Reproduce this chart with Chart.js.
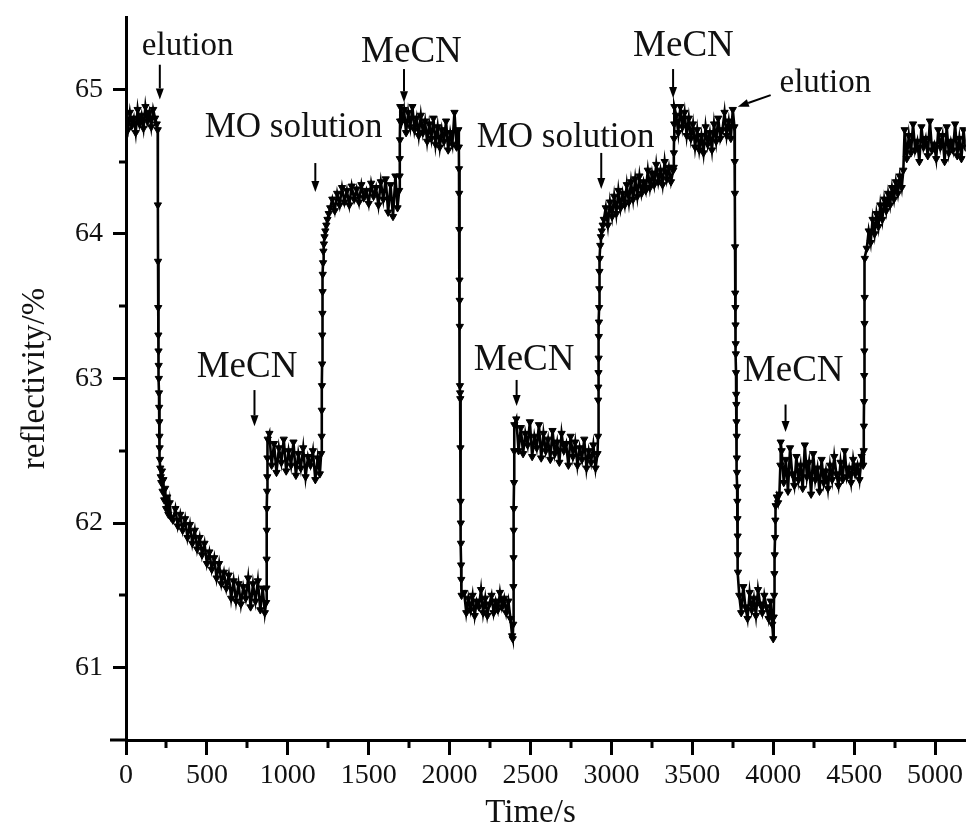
<!DOCTYPE html>
<html>
<head>
<meta charset="utf-8">
<title>Reflectivity vs time</title>
<script src="https://cdn.jsdelivr.net/npm/chart.js@4.4.1/dist/chart.umd.min.js"></script>
<style>
  html, body { margin: 0; padding: 0; background: #fff; }
  #chart { display: block; }
</style>
</head>
<body>
<canvas id="chart" width="971" height="825"></canvas>
<script>
// Reflectivity (%), one pair of arrays per stage
const startT = [0, 12, 24, 36, 48, 60, 72, 84, 96, 108, 120, 132, 144, 156, 168, 180, 190];
const startR = [64.78, 64.72, 64.84, 64.75, 64.80, 64.70, 64.86, 64.76, 64.82, 64.73, 64.88, 64.78, 64.84, 64.74, 64.86, 64.80, 64.76];

const elution1T = [196, 197, 198, 199, 200, 201, 202, 203, 204, 205, 206, 207, 208, 210, 212, 215, 218, 222, 226, 231, 236, 242, 248, 255, 262, 270, 278,
    290, 305, 320, 335, 350, 365, 380, 395, 410, 425, 440, 455, 470, 485, 500, 515, 530, 545, 560, 575, 590, 605, 620, 635, 650, 665, 680, 695, 710, 725, 740, 755, 770, 785, 800, 815, 830, 845, 858, 866];
const elution1R = [64.72, 64.20, 63.81, 63.49, 63.30, 63.19, 63.09, 63.00, 62.90, 62.80, 62.70, 62.60, 62.52, 62.44, 62.38, 62.32, 62.28, 62.36, 62.22, 62.30, 62.16, 62.24, 62.10, 62.18, 62.06, 62.14, 62.04,
    62.02, 62.10, 61.98, 62.06, 61.95, 62.03, 61.90, 61.99, 61.86, 61.95, 61.82, 61.90, 61.78, 61.86, 61.72, 61.80, 61.68, 61.76, 61.62, 61.72, 61.58, 61.66, 61.55, 61.64, 61.48, 61.60, 61.46, 61.58, 61.44, 61.56, 61.48, 61.62, 61.42, 61.58, 61.46, 61.60, 61.40, 61.55, 61.38, 61.45];

const mecn1T = [868, 869, 870, 871, 872, 873, 874, 876,
    886, 900, 915, 930, 945, 960, 975, 990, 1005, 1020, 1035, 1050, 1065, 1080, 1095, 1110, 1125, 1140, 1155, 1170, 1185, 1198, 1206];
const mecn1R = [61.55, 61.75, 61.95, 62.10, 62.22, 62.32, 62.45, 62.58,
    62.62, 62.40, 62.55, 62.35, 62.52, 62.42, 62.58, 62.36, 62.50, 62.40, 62.56, 62.33, 62.48, 62.38, 62.52, 62.32, 62.46, 62.40, 62.50, 62.30, 62.45, 62.34, 62.48];

const mo1T = [1209, 1210, 1211, 1212, 1213, 1214, 1215, 1216, 1218, 1220, 1223, 1227, 1232, 1238, 1245, 1253, 1262,
    1275, 1290, 1305, 1320, 1335, 1350, 1365, 1380, 1395, 1410, 1425, 1440, 1455, 1470, 1485, 1500, 1515, 1530, 1545, 1560, 1575, 1590, 1605, 1620, 1635, 1650, 1665, 1678, 1688];
const mo1R = [62.60, 62.78, 62.95, 63.10, 63.30, 63.45, 63.60, 63.72, 63.80, 63.88, 63.93, 63.98, 64.02, 64.06, 64.10, 64.14, 64.18,
    64.24, 64.16, 64.28, 64.20, 64.32, 64.22, 64.30, 64.20, 64.33, 64.24, 64.31, 64.22, 64.34, 64.25, 64.30, 64.21, 64.35, 64.26, 64.32, 64.20, 64.36, 64.24, 64.38, 64.15, 64.34, 64.12, 64.40, 64.18, 64.30];

const mecn2T = [1691, 1692, 1693, 1694, 1695,
    1705, 1718, 1731, 1744, 1757, 1770, 1783, 1796, 1809, 1822, 1835, 1848, 1861, 1874, 1887, 1900, 1913, 1926, 1939, 1952, 1965, 1978, 1991, 2004, 2017, 2030, 2043, 2054];
const mecn2R = [64.40, 64.52, 64.65, 64.78, 64.88,
    64.78, 64.86, 64.70, 64.84, 64.74, 64.88, 64.72, 64.80, 64.68, 64.82, 64.70, 64.78, 64.64, 64.76, 64.66, 64.80, 64.62, 64.74, 64.60, 64.72, 64.64, 64.78, 64.58, 64.70, 64.62, 64.84, 64.60, 64.72];

const elution2T = [2057, 2058, 2059, 2060, 2061, 2062, 2063, 2064, 2065, 2066, 2067, 2068, 2069, 2070, 2071, 2072, 2074,
    2090, 2103, 2116, 2129, 2142, 2155, 2168, 2181, 2194, 2207, 2220, 2233, 2246, 2259, 2272, 2285, 2298, 2311, 2324, 2337, 2350, 2363, 2376, 2386, 2390];
const elution2R = [64.60, 64.45, 64.28, 64.03, 63.68, 63.54, 63.36, 62.95, 62.90, 62.86, 62.52, 62.15, 62.00, 61.86, 61.71, 61.61, 61.50,
    61.52, 61.38, 61.48, 61.40, 61.50, 61.36, 61.46, 61.42, 61.54, 61.38, 61.48, 61.36, 61.44, 61.50, 61.38, 61.46, 61.40, 61.52, 61.42, 61.48, 61.38, 61.46, 61.34, 61.22, 61.20];

const mecn3T = [2393, 2394, 2395, 2396, 2397, 2398, 2399, 2400,
    2412, 2426, 2440, 2454, 2468, 2482, 2496, 2510, 2524, 2538, 2552, 2566, 2580, 2594, 2608, 2622, 2636, 2650, 2664, 2678, 2692, 2706, 2720, 2734, 2748, 2762, 2776, 2790, 2804, 2818, 2832, 2846, 2860, 2874, 2888, 2902, 2914];
const mecn3R = [61.30, 61.56, 61.76, 61.95, 62.10, 62.28, 62.50, 62.68,
    62.72, 62.50, 62.66, 62.48, 62.62, 62.54, 62.70, 62.46, 62.60, 62.52, 62.68, 62.45, 62.62, 62.50, 62.58, 62.44, 62.64, 62.48, 62.56, 62.42, 62.62, 62.50, 62.55, 62.40, 62.60, 62.46, 62.56, 62.40, 62.52, 62.44, 62.58, 62.38, 62.50, 62.42, 62.54, 62.38, 62.48];

const mo2T = [2917, 2918, 2919, 2920, 2921, 2922, 2923, 2924, 2925, 2926, 2928, 2931, 2935, 2940, 2946, 2953,
    2965, 2978, 2991, 3004, 3017, 3030, 3043, 3056, 3069, 3082, 3095, 3108, 3121, 3134, 3147, 3160, 3173, 3186, 3199, 3212, 3225, 3238, 3251, 3264, 3277, 3290, 3303, 3316, 3329, 3342, 3355, 3368, 3382];
const mo2R = [62.60, 62.85, 62.94, 63.04, 63.14, 63.29, 63.39, 63.49, 63.62, 63.74, 63.83, 63.92, 63.98, 64.02, 64.06, 64.10,
    64.18, 64.06, 64.22, 64.12, 64.26, 64.14, 64.30, 64.18, 64.28, 64.20, 64.34, 64.22, 64.36, 64.24, 64.38, 64.26, 64.40, 64.28, 64.36, 64.30, 64.44, 64.32, 64.42, 64.34, 64.48, 64.36, 64.44, 64.34, 64.50, 64.38, 64.46, 64.36, 64.44];

const mecn4T = [3385, 3386, 3387, 3388, 3389,
    3400, 3413, 3426, 3439, 3452, 3465, 3478, 3491, 3504, 3517, 3530, 3543, 3556, 3569, 3582, 3595, 3608, 3621, 3634, 3647, 3660, 3673, 3686, 3699, 3712, 3725, 3738, 3750, 3760];
const mecn4R = [64.46, 64.56, 64.66, 64.76, 64.88,
    64.82, 64.70, 64.88, 64.74, 64.84, 64.68, 64.80, 64.66, 64.76, 64.60, 64.72, 64.58, 64.68, 64.56, 64.74, 64.62, 64.70, 64.58, 64.76, 64.64, 64.80, 64.66, 64.72, 64.84, 64.68, 64.78, 64.66, 64.86, 64.74];

const elution3T = [3762, 3763, 3764, 3765, 3766, 3767, 3768, 3769, 3770, 3771, 3772, 3773, 3774, 3775, 3776, 3777, 3778, 3779, 3780, 3781, 3782,
    3790, 3802, 3815, 3828, 3841, 3854, 3867, 3880, 3893, 3906, 3919, 3932, 3945, 3958, 3971, 3984, 3994, 4000];
const elution3R = [64.50, 64.28, 63.91, 63.59, 63.49, 63.37, 63.24, 63.17, 63.04, 62.89, 62.82, 62.70, 62.60, 62.45, 62.35, 62.25, 62.15, 62.03, 61.91, 61.78, 61.66,
    61.50, 61.38, 61.56, 61.42, 61.34, 61.52, 61.40, 61.48, 61.36, 61.54, 61.44, 61.38, 61.50, 61.42, 61.34, 61.46, 61.30, 61.20];

const mecn5T = [4003, 4005, 4007, 4009, 4011, 4013, 4015, 4022, 4030, 4038, 4044, 4046,
    4052, 4065, 4078, 4091, 4104, 4117, 4130, 4143, 4156, 4169, 4182, 4195, 4208, 4221, 4234, 4247, 4260, 4273, 4286, 4299, 4312, 4325, 4338, 4351, 4364, 4377, 4390, 4403, 4416, 4429, 4442, 4455, 4468, 4481, 4494, 4507, 4520, 4533, 4546, 4556];
const mecn5R = [61.35, 61.50, 61.65, 61.78, 61.90, 62.02, 62.12, 62.18, 62.14, 62.20, 62.40, 62.56,
    62.50, 62.28, 62.44, 62.22, 62.52, 62.34, 62.26, 62.46, 62.30, 62.40, 62.24, 62.54, 62.32, 62.42, 62.20, 62.48, 62.30, 62.38, 62.22, 62.44, 62.28, 62.36, 62.24, 62.40, 62.30, 62.46, 62.34, 62.26, 62.42, 62.30, 62.50, 62.32, 62.38, 62.28, 62.44, 62.34, 62.40, 62.30, 62.46, 62.40];

const mo3T = [4559, 4560, 4561, 4562, 4563, 4564, 4565, 4566,
    4578, 4590, 4602, 4614, 4626, 4638, 4650, 4662, 4674, 4686, 4698, 4710, 4722, 4734, 4746, 4758, 4770, 4782, 4794, 4804,
    4812, 4825, 4838, 4851, 4864, 4877, 4890, 4903, 4916, 4929, 4942, 4955, 4968, 4981, 4994, 5007, 5020, 5033, 5046, 5059, 5072, 5085, 5098, 5111, 5124, 5137, 5150, 5163, 5176, 5188];
const mo3R = [62.50, 62.67, 62.84, 63.02, 63.19, 63.38, 63.56, 63.83,
    63.90, 64.02, 63.94, 64.10, 64.00, 64.14, 64.05, 64.20, 64.10, 64.24, 64.16, 64.28, 64.20, 64.32, 64.24, 64.36, 64.28, 64.40, 64.32, 64.44,
    64.72, 64.52, 64.68, 64.56, 64.76, 64.58, 64.64, 64.50, 64.74, 64.60, 64.66, 64.54, 64.78, 64.58, 64.62, 64.52, 64.72, 64.60, 64.68, 64.50, 64.74, 64.56, 64.64, 64.58, 64.76, 64.54, 64.66, 64.52, 64.72, 64.60];

// Axis ticks
const xTicks = [0, 500, 1000, 1500, 2000, 2500, 3000, 3500, 4000, 4500, 5000];
const xMinor = [250, 750, 1250, 1750, 2250, 2750, 3250, 3750, 4250, 4750];
const yTicks = [61, 62, 63, 64, 65];
const yMinor = [61.5, 62.5, 63.5, 64.5];

// Labels with arrows (text anchor and arrow ends in data units)
const notes = [
    { text: 'elution',     t: 98,   r: 65.24, size: 33, from: [209, 65.17],  to: [209, 64.93] },
    { text: 'MO solution', t: 486,  r: 64.67, size: 35, from: [1170, 64.49], to: [1170, 64.29] },
    { text: 'MeCN',        t: 437,  r: 63.01, size: 37, from: [794, 62.92],  to: [794, 62.67] },
    { text: 'MeCN',        t: 1453, r: 65.19, size: 37, from: [1718, 65.14], to: [1718, 64.91] },
    { text: 'MO solution', t: 2167, r: 64.60, size: 35, from: [2937, 64.56], to: [2937, 64.31] },
    { text: 'MeCN',        t: 2149, r: 63.06, size: 37, from: [2414, 62.99], to: [2414, 62.81] },
    { text: 'MeCN',        t: 3134, r: 65.23, size: 37, from: [3381, 65.14], to: [3381, 64.94] },
    { text: 'elution',     t: 4039, r: 64.98, size: 33, from: [3984, 64.96], to: [3781, 64.88] },
    { text: 'MeCN',        t: 3812, r: 62.98, size: 37, from: [4076, 62.82], to: [4076, 62.63] }
];

const stages = [
    [startT, startR], [elution1T, elution1R], [mecn1T, mecn1R], [mo1T, mo1R],
    [mecn2T, mecn2R], [elution2T, elution2R], [mecn3T, mecn3R], [mo2T, mo2R],
    [mecn4T, mecn4R], [elution3T, elution3R], [mecn5T, mecn5R], [mo3T, mo3R]
];
const points = [];
stages.forEach(([ts, rs]) => {
    if (ts.length !== rs.length) console.warn('length mismatch', ts[0]);
    ts.forEach((t, i) => points.push({ x: t, y: rs[i] }));
});

const FONT = '"Liberation Serif", "Times New Roman", serif';
Chart.defaults.font.family = FONT;
Chart.defaults.color = '#111';

// Minor ticks, axis titles and the arrow labels
const overlay = {
    id: 'overlay',
    afterDraw(chart) {
        const { ctx, chartArea: area } = chart;
        const x = chart.scales.x, y = chart.scales.y;
        ctx.save();
        ctx.strokeStyle = '#000';
        ctx.fillStyle = '#000';
        ctx.lineWidth = 3;
        ctx.beginPath();
        xMinor.forEach(v => {
            const px = Math.round(x.getPixelForValue(v));
            ctx.moveTo(px, area.bottom);
            ctx.lineTo(px, area.bottom + 8);
        });
        yMinor.forEach(v => {
            const py = Math.round(y.getPixelForValue(v));
            ctx.moveTo(area.left - 7, py);
            ctx.lineTo(area.left, py);
        });
        // x axis runs a little past the origin
        ctx.moveTo(area.left - 16, area.bottom);
        ctx.lineTo(area.left, area.bottom);
        ctx.stroke();

        // axis titles
        ctx.fillStyle = '#111';
        ctx.font = '33px ' + FONT;
        ctx.textAlign = 'center';
        ctx.textBaseline = 'alphabetic';
        ctx.fillText('Time/s', x.getPixelForValue(2500), 822);
        ctx.save();
        ctx.translate(35, (area.top + area.bottom) / 2);
        ctx.rotate(-Math.PI / 2);
        ctx.textBaseline = 'middle';
        ctx.fillText('reflectivity/%', 0, 0);
        ctx.restore();

        // labels and arrows
        ctx.textAlign = 'left';
        ctx.textBaseline = 'alphabetic';
        notes.forEach(n => {
            ctx.font = n.size + 'px ' + FONT;
            ctx.fillStyle = '#111';
            ctx.fillText(n.text, x.getPixelForValue(n.t), y.getPixelForValue(n.r));
            const x0 = x.getPixelForValue(n.from[0]), y0 = y.getPixelForValue(n.from[1]);
            const x1 = x.getPixelForValue(n.to[0]), y1 = y.getPixelForValue(n.to[1]);
            const ang = Math.atan2(y1 - y0, x1 - x0);
            const head = 11, half = 4;
            const bx = x1 - head * Math.cos(ang), by = y1 - head * Math.sin(ang);
            ctx.strokeStyle = '#000';
            ctx.lineWidth = 2;
            ctx.beginPath();
            ctx.moveTo(x0, y0);
            ctx.lineTo(bx, by);
            ctx.stroke();
            ctx.fillStyle = '#000';
            ctx.beginPath();
            ctx.moveTo(x1, y1);
            ctx.lineTo(bx + half * Math.sin(ang), by - half * Math.cos(ang));
            ctx.lineTo(bx - half * Math.sin(ang), by + half * Math.cos(ang));
            ctx.closePath();
            ctx.fill();
        });
        ctx.restore();
    }
};

new Chart(document.getElementById('chart'), {
    type: 'scatter',
    data: {
        datasets: [{
            data: points,
            showLine: true,
            borderColor: '#000',
            borderWidth: 2.6,
            pointStyle: 'triangle',
            pointRotation: 180,
            pointRadius: 4.2,
            pointBackgroundColor: '#000',
            pointBorderColor: '#000',
            pointBorderWidth: 1
        }]
    },
    options: {
        responsive: false,
        animation: false,
        events: [],
        layout: { padding: { left: 0, top: 17, right: 3, bottom: 0 } },
        plugins: {
            legend: { display: false },
            tooltip: { enabled: false }
        },
        scales: {
            x: {
                type: 'linear',
                min: 0,
                max: 5190,
                afterFit: scale => {
                    scale.height = 85;
                    scale.paddingLeft = 0;
                    scale.paddingRight = 0;
                },
                afterBuildTicks: scale => { scale.ticks = xTicks.map(v => ({ value: v })); },
                grid: { drawOnChartArea: false, tickLength: 15, tickWidth: 3, color: '#000' },
                border: { width: 3, color: '#000' },
                ticks: {
                    font: { size: 28 },
                    padding: 4,
                    maxRotation: 0,
                    autoSkip: false,
                    callback: v => String(v)
                }
            },
            y: {
                min: 60.5,
                max: 65.5,
                afterFit: scale => {
                    scale.width = 126;
                    scale.paddingTop = 0;
                    scale.paddingBottom = 0;
                },
                afterBuildTicks: scale => { scale.ticks = yTicks.map(v => ({ value: v })); },
                grid: { drawOnChartArea: false, tickLength: 13, tickWidth: 3, color: '#000' },
                border: { width: 3, color: '#000' },
                ticks: {
                    font: { size: 28 },
                    padding: 10,
                    callback: v => String(v)
                }
            }
        }
    },
    plugins: [overlay]
});
</script>
</body>
</html>
